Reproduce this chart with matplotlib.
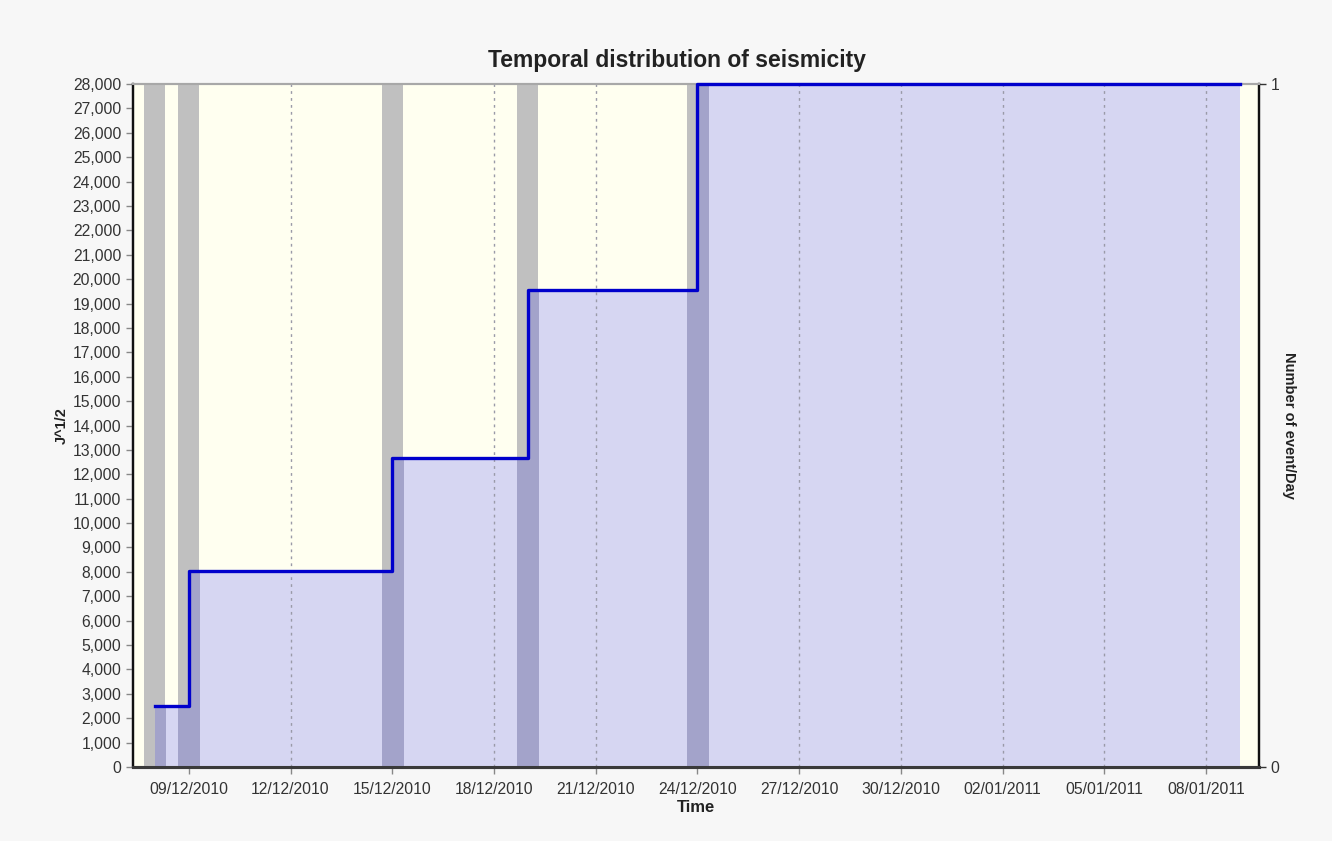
import matplotlib
matplotlib.use("Agg")
import matplotlib.pyplot as plt
import matplotlib.dates as mdates
from matplotlib.ticker import FuncFormatter
import datetime as dt

# ---- data ----
event_dates = ["2010-12-08", "2010-12-09", "2010-12-15", "2010-12-19", "2010-12-24"]
events_per_day = [1, 1, 1, 1, 1]
benioff = [2500, 8050, 12670, 19560, 27990]   # J^1/2 cumulative
end_date = "2011-01-09"
x_tick_labels = ["09/12/2010", "12/12/2010", "15/12/2010", "18/12/2010", "21/12/2010",
                 "24/12/2010", "27/12/2010", "30/12/2010", "02/01/2011", "05/01/2011",
                 "08/01/2011"]

# ---- styles ----
BG_FIG = "#F7F7F7"
BG_AX = "#FFFFF0"
LAV = "#D6D6F2"
DARK = "#A3A3CA"
GRAY = "#C0C0C0"
BLUE = "#0000CC"
FONT = "Liberation Sans"
plt.rcParams["font.family"] = [FONT, "DejaVu Sans"]

ev = [mdates.date2num(dt.datetime.strptime(d, "%Y-%m-%d")) for d in event_dates]
xend = mdates.date2num(dt.datetime.strptime(end_date, "%Y-%m-%d"))
xs = ev + [xend]
ys = benioff + [benioff[-1]]

fig = plt.figure(figsize=(13.32, 8.41), dpi=100, facecolor=BG_FIG)
ax = fig.add_axes([133/1332, 1-767/841, (1259-133)/1332, (767-84)/841])
ax2 = ax.twinx()
ax2.set_zorder(0)
ax.set_zorder(1)
ax.patch.set_visible(False)
ax2.patch.set_visible(True)
ax2.patch.set_facecolor(BG_AX)

# bars (events per day) on right axis -- used as shapes; painted in main axes
bars = ax2.bar(ev, events_per_day, width=0.62, color=GRAY, linewidth=0, align="center")
for b in bars:
    b.set_alpha(0)
ax2.set_ylim(0, 1)
ax2.set_yticks([0, 1])
ax2.set_yticklabels(["0", "1"])
ax2.set_ylabel("Number of event/Day", rotation=-90, labelpad=12, fontsize=10.5,
               fontweight="bold", color="#222222")

ax.set_ylim(0, 28000)
ax.set_axisbelow(True)

# area under cumulative curve
ax.fill_between(xs, 0, ys, step="post", color=LAV, linewidth=0, zorder=0.3)
for b in bars:
    g = ax.axhspan(0, 28000, color=GRAY, linewidth=0, zorder=0.7)
    g.set_clip_path(b)
    f = ax.fill_between(xs, 0, ys, step="post", color=DARK, linewidth=0, zorder=0.8)
    f.set_clip_path(b)
ax.step(xs, ys, where="post", color=BLUE, linewidth=2.4, zorder=3, clip_on=False)

ax.set_yticks(range(0, 28001, 1000))
ax.yaxis.set_major_formatter(FuncFormatter(lambda v, p: f"{int(v):,}"))
x0 = mdates.date2num(dt.datetime(2010, 12, 7, 8, 30))
x1 = mdates.date2num(dt.datetime(2011, 1, 9, 13, 30))
ax.set_xlim(x0, x1)
tick_pos = [mdates.date2num(dt.datetime.strptime(t, "%d/%m/%Y")) for t in x_tick_labels]
ax.set_xticks(tick_pos)
ax.set_xticklabels(x_tick_labels)

ax.grid(axis="x", linestyle=(0, (2, 3)), color="#9A9AA8", linewidth=1.0)
ax.grid(axis="y", visible=False)

for a in (ax, ax2):
    a.tick_params(labelsize=11.3, colors="#333333", length=5, width=1)
ax.tick_params(axis="x", pad=6, colors="#888888", labelcolor="#333333")
ax.tick_params(axis="y", colors="#888888", labelcolor="#333333")

ax.set_xlabel("Time", fontsize=12, fontweight="bold", color="#222222", labelpad=2)
ax.set_ylabel("J^1/2", fontsize=10.5, fontweight="bold", color="#222222", labelpad=3)
fig.text(677/1332, 1-60/841, "Temporal distribution of seismicity", fontsize=16.5,
         fontweight="bold", color="#222222", ha="center", va="center")

for a in (ax, ax2):
    a.spines["left"].set_color("#111111")
    a.spines["left"].set_linewidth(1.6)
    a.spines["right"].set_color("#111111")
    a.spines["right"].set_linewidth(1.6)
    a.spines["bottom"].set_color("#3A3A3A")
    a.spines["bottom"].set_linewidth(2.2)
    a.spines["top"].set_color("#A8A8A8")
    a.spines["top"].set_linewidth(1.5)

fig.savefig("out.png", dpi=100, facecolor=BG_FIG)
